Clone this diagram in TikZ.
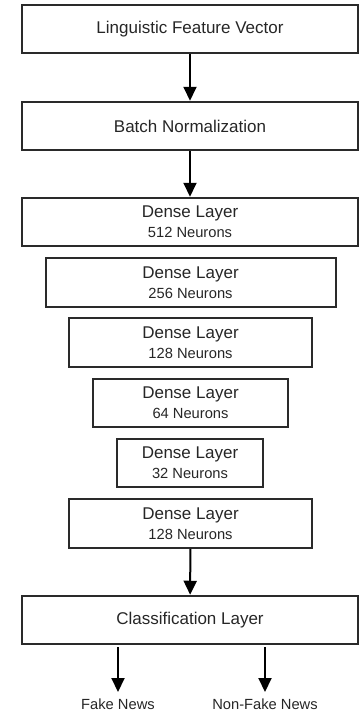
\documentclass[tikz,border=0pt]{standalone}
\usepackage{fontspec}
\setmainfont{Liberation Sans}
\usetikzlibrary{arrows.meta}
\definecolor{ink}{HTML}{262626}
\definecolor{edge}{HTML}{2A2A2A}
\tikzset{
  layerbox/.style={draw=edge, line width=2pt, rectangle, inner sep=0pt, align=center,
    text=ink, font=\fontsize{17}{20}\selectfont, minimum height=48.5pt},
  sub/.style={},
  flow/.style={draw=black, line width=2pt, -{Triangle[length=14pt,width=13pt]}},
  outlabel/.style={text=ink, font=\fontsize{14.7}{17}\selectfont, inner sep=0pt}
}
\newcommand{\nrn}[1]{\\{\fontsize{14.7}{20}\selectfont #1}}
\begin{document}
\begin{tikzpicture}[x=1pt,y=-1pt]
\useasboundingbox (0,0) rectangle (359,712);
\node[layerbox, minimum width=336pt] (fv) at (190,29) {Linguistic Feature Vector};
\node[layerbox, minimum width=336pt] (bn) at (190,126) {Batch Normalization};
\node[layerbox, minimum width=336pt] (d512) at (190,222) {Dense Layer\nrn{512 Neurons}};
\node[layerbox, minimum width=290pt] (d256) at (190.5,282.5) {Dense Layer\nrn{256 Neurons}};
\node[layerbox, minimum width=243pt] (d128) at (190.5,342.5) {Dense Layer\nrn{128 Neurons}};
\node[layerbox, minimum width=195pt] (d64) at (190.5,403) {Dense Layer\nrn{64 Neurons}};
\node[layerbox, minimum width=146pt] (d32) at (190,463) {Dense Layer\nrn{32 Neurons}};
\node[layerbox, minimum width=243pt] (d128b) at (190.5,523.5) {Dense Layer\nrn{128 Neurons}};
\node[layerbox, minimum width=336pt] (cl) at (190,620) {Classification Layer};
\coordinate (fa) at (118,647);
\coordinate (na) at (265,647);
\node[outlabel] (fake) at (118,704.5) {Fake News};
\node[outlabel] (nonfake) at (265,704.5) {Non-Fake News};
\draw[flow] (fv) -- (bn);
\draw[flow] (bn) -- (d512);
\draw[flow] (d128b) -- (cl);
\draw[flow] (fa) -- (118,692);
\draw[flow] (na) -- (265,692);
\end{tikzpicture}
\end{document}
